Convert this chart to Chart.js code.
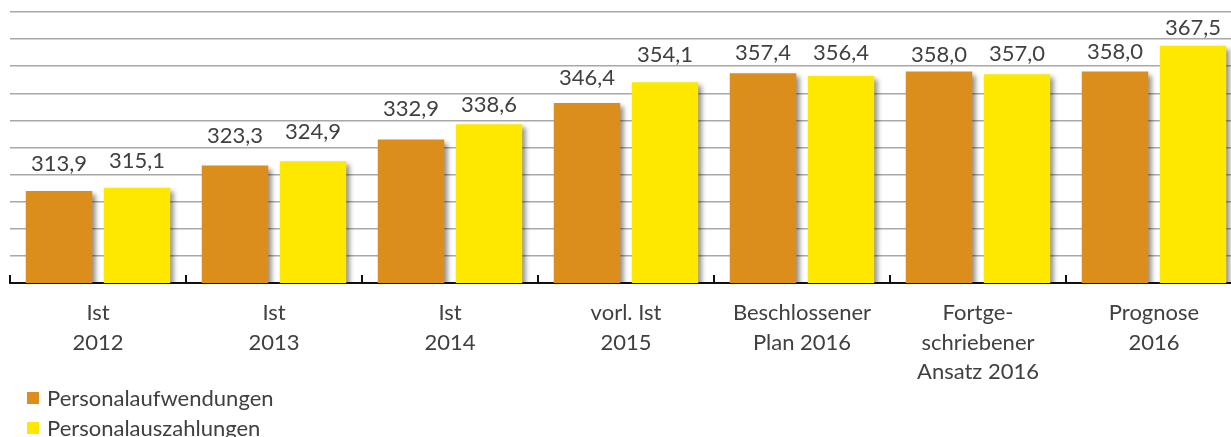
<!DOCTYPE html>
<html>
<head>
<meta charset="utf-8">
<script src="https://cdn.jsdelivr.net/npm/chart.js@4.4.1/dist/chart.umd.min.js"></script>
<style>
  html, body { margin: 0; padding: 0; background: #fff; overflow: hidden; }
  #wrap { position: relative; width: 1231px; height: 437px; overflow: hidden; }
  #c { position: absolute; left: 0; top: 0; }
  #legend { position: absolute; left: 27px; top: 383px; font-family: Lato, sans-serif; font-size: 22px; color: #404040; }
  .li { height: 30px; line-height: 30px; display: flex; align-items: center; white-space: nowrap; }
  .sw { width: 12px; height: 12px; margin-right: 8px; display: inline-block; }
</style>
</head>
<body>
<div id="wrap">
  <canvas id="c" width="1252" height="437"></canvas>
  <div id="legend"></div>
</div>
<script>
const categories = [
  ["Ist", "2012"],
  ["Ist", "2013"],
  ["Ist", "2014"],
  ["vorl. Ist", "2015"],
  ["Beschlossener", "Plan 2016"],
  ["Fortge-", "schriebener", "Ansatz 2016"],
  ["Prognose", "2016"]
];
const seriesNames = ["Personalaufwendungen", "Personalauszahlungen"];
const aufwendungen = [313.9, 323.3, 332.9, 346.4, 357.4, 358.0, 358.0];
const auszahlungen = [315.1, 324.9, 338.6, 354.1, 356.4, 357.0, 367.5];
const yMin = 280, yMax = 380, yStep = 10;

const colors = ["#DB8E1B", "#FFE800"];
// label lift above bar top (px), per series / per bar
const labelLift = [
  [27, 30, 31, 25, 20, 17, 20],
  [27, 29, 19, 27, 23, 20, 18]
];

const fmt = v => v.toFixed(1).replace('.', ',');

const shadowPlugin = {
  id: 'barShadow',
  beforeDatasetsDraw(chart) {
    const ctx = chart.ctx;
    ctx.save();
    ctx.shadowColor = 'rgba(0,0,0,0.45)';
    ctx.shadowBlur = 5;
    ctx.shadowOffsetX = 4;
    ctx.shadowOffsetY = 3;
  },
  afterDatasetsDraw(chart) {
    chart.ctx.restore();
  }
};

const labelPlugin = {
  id: 'valueLabels',
  afterDraw(chart) {
    const ctx = chart.ctx;
    ctx.save();
    ctx.font = '22px Lato, sans-serif';
    ctx.fillStyle = '#404040';
    ctx.textAlign = 'center';
    ctx.textBaseline = 'middle';
    chart.data.datasets.forEach((ds, di) => {
      const meta = chart.getDatasetMeta(di);
      meta.data.forEach((bar, i) => {
        ctx.fillText(fmt(ds.data[i]), bar.x, bar.y - labelLift[di][i]);
      });
    });
    ctx.restore();
  }
};

const tickPlugin = {
  id: 'innerTicks',
  afterDraw(chart) {
    const xs = chart.scales.x;
    const ctx = chart.ctx;
    const n = chart.data.labels.length;
    const w = xs.getPixelForValue(1) - xs.getPixelForValue(0);
    const b = chart.chartArea.bottom;
    ctx.save();
    ctx.strokeStyle = '#111';
    ctx.lineWidth = 2;
    for (let i = 0; i <= n; i++) {
      const x = Math.round(xs.getPixelForValue(0) - w / 2 + i * w);
      ctx.beginPath();
      ctx.moveTo(x, b);
      ctx.lineTo(x, b - 8);
      ctx.stroke();
    }
    ctx.restore();
  }
};

new Chart(document.getElementById('c'), {
  type: 'bar',
  data: {
    labels: categories,
    datasets: [
      { label: seriesNames[0], data: aufwendungen, backgroundColor: colors[0] },
      { label: seriesNames[1], data: auszahlungen, backgroundColor: colors[1] }
    ]
  },
  options: {
    responsive: false,
    animation: false,
    devicePixelRatio: 1,
    categoryPercentage: 0.886,
    barPercentage: 0.853,
    layout: { padding: { left: 10, right: 10, top: 12, bottom: 43 } },
    plugins: { legend: { display: false }, tooltip: { enabled: false } },
    scales: {
      x: {
        grid: { display: false },
        border: { display: true, color: '#111', width: 2 },
        ticks: {
          padding: 8,
          color: '#404040',
          font: { family: 'Lato, sans-serif', size: 22, lineHeight: 1.32 },
          maxRotation: 0, autoSkip: false
        }
      },
      y: {
        min: yMin, max: yMax,
        afterFit(s) { s.width = 0; },
        ticks: { display: false, stepSize: yStep },
        border: { display: false },
        grid: { color: '#A8A8A8', lineWidth: 1.5, drawTicks: false }
      }
    }
  },
  plugins: [shadowPlugin, labelPlugin, tickPlugin]
});

const legend = document.getElementById('legend');
seriesNames.forEach((name, i) => {
  const row = document.createElement('div');
  row.className = 'li';
  const sw = document.createElement('span');
  sw.className = 'sw';
  sw.style.background = colors[i];
  const t = document.createElement('span');
  t.textContent = name;
  row.appendChild(sw); row.appendChild(t);
  legend.appendChild(row);
});
</script>
</body>
</html>
